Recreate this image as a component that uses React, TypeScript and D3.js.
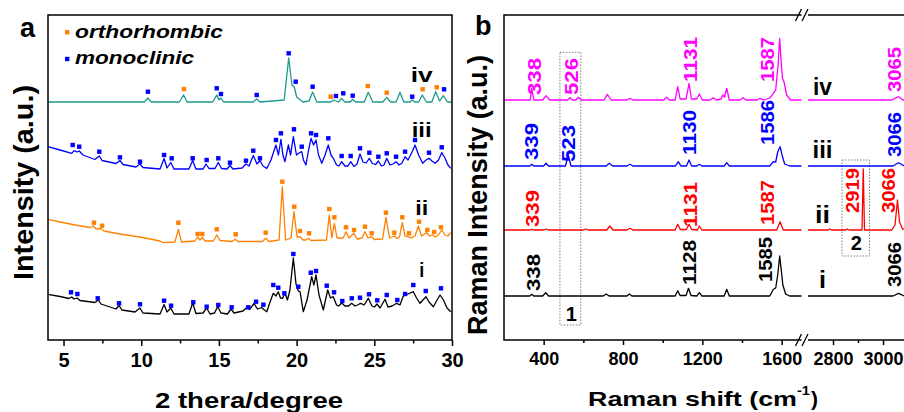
import React, { useRef, useEffect } from 'react';
import * as d3 from 'd3';

const FONT = "Arial, 'Liberation Sans', Helvetica, sans-serif";

// ---------- panel a: XRD, [2theta, intensity (a.u., stacked)] ----------
const xrdTicks = [5, 10, 15, 20, 25, 30];
const xrdMinor = [7.5, 12.5, 17.5, 22.5, 27.5];
const xrdNames = ['iv', 'iii', 'ii', 'i'];
const xrdNameY = [258, 203, 125, 63];
const xrdColors = ['#1b9b8b', '#0000ff', '#ff8000', '#000000'];

const xrdIV = [
  [4, 238], [10.2, 238], [10.43, 242], [10.65, 238], [12.45, 238], [12.72, 245], [12.95, 238],
  [14.6, 238], [14.86, 245], [15.0, 240], [15.12, 242], [15.3, 238], [17.2, 238], [17.43, 241],
  [17.65, 238], [19.2, 240], [19.49, 282], [19.7, 255], [19.85, 253], [20.0, 243], [20.4, 238],
  [20.8, 239], [21.03, 248], [21.3, 238], [22.2, 238], [22.36, 240], [22.53, 239], [22.7, 238],
  [22.9, 241.7], [23.1, 238], [23.45, 238], [23.61, 240.7], [23.8, 238], [24.35, 238], [24.61, 247.7],
  [24.9, 238], [25.55, 238], [25.8, 242.7], [26.05, 238], [26.4, 238], [26.65, 247.7], [26.9, 238],
  [27.3, 238], [27.44, 240], [27.6, 238], [27.85, 238], [28.09, 245], [28.35, 238], [28.7, 238],
  [28.95, 248.3], [29.2, 239], [29.44, 244.3], [29.7, 238], [30, 238],
];
const xrdIII = [
  [4, 193.3], [4.77, 190], [5.53, 186.7], [5.67, 189.3], [5.87, 188], [6.01, 189], [6.25, 185],
  [7.02, 180.5], [7.3, 184], [7.48, 179.5], [8.38, 176.5], [8.63, 179.5], [8.83, 175.5], [9.66, 173],
  [9.92, 176], [10.11, 172.5], [11.21, 171], [11.47, 181.5], [11.66, 172], [11.9, 177.5], [12.11, 171],
  [13.07, 171], [13.31, 179.5], [13.52, 171], [13.98, 171], [14.17, 176], [14.36, 171.5], [14.75, 171.5],
  [14.96, 177.5], [15.17, 171.5], [15.52, 171], [15.71, 174.5], [15.91, 171], [16.49, 172], [16.74, 176],
  [16.94, 174], [17.21, 184.5], [17.45, 176], [17.64, 179.5], [17.84, 174], [18.08, 171.5], [18.35, 180],
  [18.67, 195], [18.83, 185], [18.99, 200.7], [19.12, 185], [19.25, 178.3], [19.47, 195], [19.61, 185],
  [19.79, 203.3], [19.99, 185], [20.15, 187], [20.33, 188.3], [20.44, 180], [20.6, 175], [20.77, 190],
  [20.93, 201.7], [21.09, 195], [21.25, 200], [21.41, 185], [21.62, 176.7], [21.83, 185], [22.04, 195],
  [22.21, 185], [22.36, 181.7], [22.57, 175], [22.73, 174], [22.9, 178.3], [23.11, 174], [23.31, 174],
  [23.48, 178.3], [23.69, 173.5], [23.89, 176], [24.08, 186], [24.27, 178], [24.47, 177], [24.68, 181.7],
  [24.88, 176.5], [25.08, 175.5], [25.26, 179], [25.46, 174], [25.62, 175], [25.8, 181.7], [26.01, 175],
  [26.2, 176], [26.4, 178.3], [26.59, 175], [26.78, 177], [26.98, 183.3], [27.17, 180], [27.43, 188],
  [27.62, 195], [27.85, 185], [28.11, 176.7], [28.33, 180], [28.52, 181.7], [28.71, 179], [28.91, 176.7],
  [29.13, 180], [29.34, 187.3], [29.55, 182], [29.74, 175], [29.92, 171.7],
];
const xrdII = [
  [4, 120.7], [4.77, 118], [5.74, 115], [6.7, 112.5], [6.92, 114], [7.09, 111], [7.41, 111.5], [7.6, 109],
  [8.63, 106], [9.92, 103], [11.21, 99], [11.42, 97.3], [12.17, 98], [12.39, 110.7], [12.59, 98],
  [13.46, 99], [13.63, 103], [13.78, 100], [13.93, 102.5], [14.1, 99], [14.65, 99], [14.86, 105],
  [15.07, 99.5], [15.84, 98.5], [16.04, 100.7], [16.23, 98.5], [17.81, 98.5], [18.01, 101.7], [18.22, 98.5],
  [18.87, 100], [19.08, 153.3], [19.29, 100], [19.64, 102], [19.83, 128.3], [20.03, 103], [20.22, 103.3],
  [20.41, 100], [20.6, 100], [20.75, 101.7], [20.93, 99.5], [21.92, 100], [22.1, 125], [22.26, 102],
  [22.43, 116.7], [22.6, 102], [22.99, 102], [23.18, 108.3], [23.37, 102], [23.5, 104], [23.69, 106.7],
  [23.89, 101], [24.21, 102], [24.4, 108.3], [24.59, 102], [24.83, 103.3], [25.01, 100.5], [25.53, 101],
  [25.75, 122.7], [25.98, 102], [26.29, 104], [26.46, 101.5], [26.62, 103], [26.8, 117.3], [26.98, 104],
  [27.19, 103.3], [27.39, 102], [27.62, 104], [27.83, 114], [28.04, 104], [28.37, 107.3], [28.55, 104],
  [28.73, 105], [28.94, 103], [29.13, 105], [29.34, 110], [29.55, 105], [29.74, 104], [29.92, 107.3],
];
const xrdI = [
  [4, 45.7], [4.77, 43.5], [5.35, 41.5], [5.53, 43], [5.67, 41], [5.87, 42], [6.06, 39.5], [7.02, 37.5],
  [7.24, 40], [7.41, 36], [8.38, 31], [8.57, 34.5], [8.76, 30], [9.6, 28], [9.92, 32], [10.11, 27],
  [11.21, 26], [11.47, 35.5], [11.66, 28], [11.9, 32], [12.11, 26], [13.07, 26], [13.31, 37], [13.52, 26.5],
  [13.98, 27], [14.21, 32], [14.43, 26], [14.72, 27], [14.92, 33.5], [15.13, 27], [15.55, 26], [15.78, 31],
  [15.97, 27], [16.55, 29], [16.79, 32.5], [16.97, 30.5], [17.26, 36.5], [17.48, 31], [17.75, 32.5],
  [17.93, 30], [18.08, 28.3], [18.29, 38], [18.5, 46.7], [18.67, 44], [18.82, 48.3], [18.96, 42],
  [19.1, 41.7], [19.25, 46.7], [19.41, 40], [19.57, 50], [19.79, 82], [19.96, 56], [20.11, 49], [20.22, 48.3],
  [20.43, 28.3], [20.67, 40], [20.97, 63.3], [21.11, 55], [21.25, 65], [21.44, 45], [21.72, 30], [22.0, 50],
  [22.18, 42], [22.36, 43.3], [22.57, 35], [22.7, 34], [22.9, 37], [23.11, 34], [23.34, 34], [23.54, 36.7],
  [23.76, 34], [23.92, 35], [24.12, 36.7], [24.34, 35], [24.61, 41.7], [24.85, 34], [25.01, 33], [25.17, 36],
  [25.37, 32], [25.69, 40.7], [25.88, 33], [26.14, 34], [26.44, 36.7], [26.65, 35], [26.87, 44], [27.17, 46],
  [27.51, 48.3], [27.72, 42], [27.94, 36.7], [28.13, 40], [28.33, 43.3], [28.52, 38], [28.8, 33.3],
  [29.04, 40], [29.23, 45], [29.45, 40], [29.68, 32], [29.92, 28.3],
];

// phase markers: o = orthorhombic, m = monoclinic
const marksIV = [
  ['m', 10.43, 248.3], ['o', 12.75, 251], ['m', 14.86, 251.7], ['m', 15.13, 246], ['m', 17.43, 245],
  ['m', 19.49, 286.7], ['m', 19.94, 258.3], ['m', 21.03, 253.3], ['o', 22.19, 243.3], ['m', 22.53, 244],
  ['m', 23.0, 246.7], ['m', 23.61, 244.3], ['o', 24.58, 254], ['o', 25.8, 247.3], ['m', 27.44, 243.3],
  ['o', 28.11, 250.7], ['o', 29.02, 252.7], ['m', 29.49, 250.7],
];
const marksIII = [
  ['m', 5.59, 195], ['m', 6.01, 193.3], ['m', 7.3, 188.3], ['m', 8.63, 182.7], ['m', 9.92, 178.3],
  ['m', 11.47, 185], ['m', 11.96, 181.7], ['m', 13.31, 181.7], ['m', 14.21, 180], ['m', 14.96, 181.7],
  ['m', 15.71, 177.3], ['m', 16.74, 179.3], ['m', 17.21, 189.3], ['m', 17.64, 181.7], ['m', 18.67, 200],
  ['m', 18.99, 206.7], ['m', 19.83, 210.7], ['m', 20.33, 193.3], ['m', 20.93, 206.7], ['m', 21.25, 205],
  ['m', 22.04, 201.7], ['m', 22.9, 184], ['m', 23.48, 184], ['m', 24.08, 191.7], ['m', 24.68, 187.3],
  ['m', 25.26, 183.3], ['m', 25.8, 186.7], ['m', 26.4, 183.3], ['m', 26.98, 188.3], ['m', 27.62, 200],
  ['m', 28.52, 187.3], ['m', 29.34, 192.7],
];
const marksII = [
  ['o', 6.96, 117.3], ['o', 7.48, 114.3], ['o', 12.39, 117.3], ['o', 13.63, 106], ['o', 13.93, 106],
  ['o', 14.86, 110.7], ['o', 16.08, 105.7], ['o', 18.01, 107.3], ['o', 19.08, 158.3], ['o', 19.85, 133.3],
  ['o', 20.22, 109], ['o', 20.8, 106.7], ['o', 22.1, 131], ['o', 22.43, 122.7], ['o', 23.18, 112.7],
  ['o', 23.69, 110], ['o', 24.4, 113.3], ['o', 24.83, 106.7], ['o', 25.75, 127.3], ['o', 26.29, 107.3],
  ['o', 26.8, 122.7], ['o', 27.23, 106.7], ['o', 27.88, 118.3], ['o', 28.41, 110], ['o', 28.85, 108],
  ['o', 29.29, 112.7],
];
const marksI = [
  ['m', 5.48, 47.7], ['m', 5.89, 46], ['m', 7.2, 41.7], ['m', 8.57, 36.7], ['m', 9.92, 35.7], ['m', 11.47, 39.3],
  ['m', 11.92, 34.3], ['m', 13.35, 37.7], ['m', 14.21, 33.3], ['m', 14.96, 35], ['m', 15.82, 32.7],
  ['m', 16.89, 32.7], ['m', 17.39, 38.3], ['m', 17.86, 35.3], ['m', 18.5, 55], ['m', 18.82, 52.3],
  ['m', 19.21, 46.7], ['m', 19.79, 86], ['m', 20.11, 53.3], ['m', 20.91, 67.3], ['m', 21.25, 69],
  ['m', 21.94, 54.3], ['m', 22.41, 47.7], ['m', 22.94, 39], ['m', 23.55, 41.7], ['m', 24.08, 42.3],
  ['m', 24.66, 45.7], ['m', 25.19, 39.7], ['m', 25.8, 45], ['m', 26.48, 40], ['m', 26.98, 46], ['m', 27.51, 55],
  ['m', 28.31, 49], ['m', 29.29, 51.7],
];
const phaseNames = { o: 'orthorhombic', m: 'monoclinic' };
const phaseColors = { o: '#ff8000', m: '#0000ff' };

// ---------- panel b: Raman, [shift cm-1, intensity (a.u., stacked)] ----------
const ramanTicks1 = [400, 800, 1200, 1600];
const ramanMinor1 = [600, 1000, 1400];
const ramanTicks2 = [2800, 3000];
const ramanMinor2 = [2900, 3100];
const ramanNames = ['iv', 'iii', 'ii', 'i'];
const ramanNameY = [245, 182, 117, 52];
const ramanColors = ['#ff00ff', '#0000ff', '#ff0000', '#000000'];

const ramanIV = [
  [200, 240], [320, 240], [332, 240], [340, 251.7], [350, 240], [395, 240], [412, 244.3], [430, 240],
  [520, 240], [533, 242.3], [545, 240], [563, 240], [575, 242.7], [590, 240], [705, 240], [721, 245.7],
  [740, 240], [820, 240], [835, 241.7], [850, 240], [1005, 240], [1020, 242.7], [1035, 240], [1063, 240],
  [1076, 253.3], [1088, 241], [1118, 241], [1133, 256.7], [1145, 241], [1172, 241], [1185, 246], [1200, 240],
  [1240, 240], [1255, 242.3], [1270, 240], [1295, 241], [1303, 245], [1312, 243], [1323, 251.7], [1336, 240],
  [1390, 240], [1404, 242.3], [1420, 240], [1475, 240], [1491, 241.7], [1510, 240], [1540, 242], [1558, 246.7],
  [1570, 250], [1582, 275], [1590, 301.7], [1597, 280], [1604, 262], [1612, 258], [1625, 245], [1645, 240],
  [1700, 240],
  [2700, 240], [3035, 240], [3062, 243.3], [3080, 240], [3200, 240],
];
const ramanIII = [
  [200, 174], [330, 174], [340, 175.7], [350, 174], [400, 174], [412, 176.7], [425, 174], [510, 174],
  [524, 185], [538, 174], [715, 174], [731, 176.7], [748, 174], [820, 174], [835, 175.7], [850, 174],
  [1065, 174], [1079, 178.3], [1092, 174], [1120, 174], [1133, 180], [1146, 174], [1172, 174], [1185, 175.7],
  [1198, 174], [1310, 174], [1323, 177.3], [1336, 174], [1540, 174], [1558, 178.3], [1570, 178], [1580, 188],
  [1592, 193.3], [1602, 185], [1615, 176], [1640, 174], [1700, 174],
  [2700, 174], [3040, 174], [3062, 177.3], [3085, 174], [3200, 174],
];
const ramanII = [
  [200, 110], [330, 110], [340, 110.7], [350, 110], [400, 110], [412, 111], [425, 110], [600, 110],
  [612, 111], [625, 110], [718, 110], [734, 114], [750, 110], [820, 110], [835, 111.7], [850, 110],
  [1063, 110], [1076, 115.7], [1089, 110.5], [1120, 110.5], [1133, 115.7], [1146, 110.5], [1175, 110],
  [1185, 114], [1198, 110], [1575, 110], [1592, 118.3], [1608, 110], [1700, 110],
  [2700, 110], [2780, 110], [2787, 111], [2795, 110], [2850, 110], [2857, 111], [2865, 110], [2916, 110],
  [2921, 171], [2926, 110], [3035, 110], [3048, 115], [3058, 140], [3066, 118], [3078, 111], [3200, 110],
];
const ramanI = [
  [200, 44], [330, 44], [340, 45.7], [350, 44], [395, 44], [410, 47.3], [425, 44], [700, 44], [715, 46],
  [730, 44], [820, 44], [832, 46], [845, 44], [1063, 44], [1076, 49.3], [1088, 44.5], [1118, 44.5],
  [1130, 51.7], [1143, 44.5], [1172, 44], [1185, 47.3], [1198, 44], [1310, 44], [1323, 50.7], [1336, 44],
  [1540, 44], [1558, 50.7], [1570, 52], [1580, 65], [1590, 84], [1598, 70], [1606, 55], [1620, 46],
  [1640, 44], [1700, 44],
  [2700, 44], [3040, 44], [3062, 46.7], [3085, 44], [3200, 44],
];

// peak annotations: [text, shift, intensity where text starts]
const notesIV = [['338', 351, 245], ['526', 540, 245], ['1131', 1140, 258], ['1587', 1529, 258], ['3065', 3046, 248]];
const notesIII = [['339', 339, 180], ['523', 525, 178], ['1130', 1135, 185], ['1586', 1529, 195], ['3066', 3046, 183]];
const notesII = [['339', 344, 113], ['1131', 1140, 113], ['1587', 1529, 115], ['2919', 2875, 127], ['3066', 3019, 127]];
const notesI = [['338', 349, 49], ['1128', 1135, 55], ['1585', 1516, 58], ['3066', 3046, 53]];

// dotted boxes: [label, shift from, shift to, intensity low, intensity high, label shift, label intensity]
const ramanBoxes = [
  ['1', 482, 587, 15, 287.7, 540, 19],
  ['2', 2836, 2946, 84, 180, 2893, 90],
];

const txt = (g, s, x, y, size, opts: any = {}) => {
  const t = g.append('text')
    .attr('x', x).attr('y', y)
    .attr('font-family', FONT).attr('font-weight', 'bold')
    .attr('font-size', size).attr('fill', opts.fill || '#000')
    .attr('text-anchor', opts.anchor || 'start')
    .text(s);
  if (opts.len) t.attr('textLength', opts.len).attr('lengthAdjust', 'spacingAndGlyphs');
  if (opts.italic) t.attr('font-style', 'italic');
  return t;
};

const styleAxis = (ax, size) => {
  ax.select('.domain').remove();
  ax.selectAll('line').attr('stroke', '#000').attr('stroke-width', 1.5);
  ax.selectAll('text').attr('font-size', size).attr('font-weight', 'bold')
    .attr('font-family', FONT).attr('fill', '#000');
};

const drawXrd = (svg) => {
  const x = d3.scaleLinear().domain([4, 30]).range([48, 452]);
  const y = d3.scaleLinear().domain([0, 325]).range([340, 15]);
  const g = svg.append('g');
  const line = d3.line().x((d) => x(d[0])).y((d) => y(d[1]));

  [xrdIV, xrdIII, xrdII, xrdI].forEach((s, i) => {
    g.append('path').attr('d', line(s)).attr('fill', 'none')
      .attr('stroke', xrdColors[i]).attr('stroke-width', 1.3).attr('stroke-linejoin', 'round');
  });

  const marks = [...marksIV, ...marksIII, ...marksII, ...marksI];
  g.selectAll('rect.mk').data(marks).enter().append('rect')
    .attr('x', (d) => x(d[1]) - 2.2).attr('y', (d) => y(d[2]) - 2.2)
    .attr('width', 4.4).attr('height', 4.4)
    .attr('fill', (d) => phaseColors[d[0]]);

  const nameLen = [22, 20, 13, 5];
  xrdNames.forEach((n, i) => txt(g, n, x(28.05), y(xrdNameY[i]), 21, { anchor: 'middle', len: nameLen[i] }));

  // legend
  [['o', 32.3, 37.5, 148], ['m', 59, 64, 119]].forEach(([k, my, ty, len]) => {
    g.append('rect').attr('x', 65).attr('y', my - 2.2).attr('width', 4.4).attr('height', 4.4)
      .attr('fill', phaseColors[k]);
    txt(g, phaseNames[k], 75, ty, 18.5, { italic: true, len });
  });

  const ax = g.append('g').attr('transform', `translate(0,${y.range()[0]})`)
    .call(d3.axisBottom(x).tickValues(xrdTicks).tickSize(6).tickPadding(7));
  styleAxis(ax, 20);
  const mn = g.append('g').attr('transform', `translate(0,${y.range()[0]})`)
    .call(d3.axisBottom(x).tickValues(xrdMinor).tickSize(3.5).tickFormat(() => ''));
  styleAxis(mn, 20);

  g.append('rect').attr('x', x.range()[0]).attr('y', y.range()[1])
    .attr('width', x.range()[1] - x.range()[0]).attr('height', y.range()[0] - y.range()[1])
    .attr('fill', 'none').attr('stroke', '#000').attr('stroke-width', 1.5);

  txt(g, 'a', 20, 37, 27);
  txt(g, '2 thera/degree', 249, 408, 22, { anchor: 'middle', len: 188 });
  txt(g, 'Intensity (a.u.)', 0, 0, 28, { anchor: 'middle', len: 195 })
    .attr('transform', 'translate(33,182.5) rotate(-90)');
};

const drawRaman = (svg) => {
  const x1 = d3.scaleLinear().domain([200, 1700]).range([504, 801.5]);
  const x2 = d3.scaleLinear().domain([2700, 3200]).range([808, 933]);
  const xs = (v) => (v <= 1700 ? x1(v) : x2(v));
  const y = d3.scaleLinear().domain([0, 325]).range([340, 15]);
  const g = svg.append('g');
  const line = d3.line().x((d) => xs(d[0])).y((d) => y(d[1]));

  // dotted boxes first
  ramanBoxes.forEach(([lab, a, b, lo, hi, lx, ly]) => {
    g.append('rect').attr('x', xs(a)).attr('y', y(hi)).attr('width', xs(b) - xs(a)).attr('height', y(lo) - y(hi))
      .attr('fill', 'none').attr('stroke', '#808080').attr('stroke-width', 1).attr('stroke-dasharray', '1.5 1.5');
    txt(g, lab, xs(lx), y(ly), 20, { anchor: 'middle' });
  });

  [ramanIV, ramanIII, ramanII, ramanI].forEach((s, i) => {
    [s.filter((d) => d[0] <= 1700), s.filter((d) => d[0] >= 2700)].forEach((seg) => {
      g.append('path').attr('d', line(seg)).attr('fill', 'none')
        .attr('stroke', ramanColors[i]).attr('stroke-width', 1.3).attr('stroke-linejoin', 'round');
    });
  });

  [notesIV, notesIII, notesII, notesI].forEach((notes, i) => {
    notes.forEach(([s, v, h]) => {
      txt(g, s, 0, 0, 19, { fill: ramanColors[i], len: s.length === 4 ? 45 : 37 }).attr('dy', '0.36em')
        .attr('transform', `translate(${xs(v)},${y(h)}) rotate(-90)`);
    });
  });

  const nameLen = [19, 20, 15, 7];
  ramanNames.forEach((n, i) => txt(g, n, x2(2758), y(ramanNameY[i]), 23, { anchor: 'middle', len: nameLen[i] }));

  const base = y.range()[0];
  [[x1, ramanTicks1, ramanMinor1], [x2, ramanTicks2, ramanMinor2]].forEach(([sc, tk, mn]) => {
    const ax = g.append('g').attr('transform', `translate(0,${base})`)
      .call(d3.axisBottom(sc).tickValues(tk).tickSize(5).tickPadding(7).tickFormat(d3.format('d')));
    styleAxis(ax, 18);
    const am = g.append('g').attr('transform', `translate(0,${base})`)
      .call(d3.axisBottom(sc).tickValues(mn).tickSize(3).tickFormat(() => ''));
    styleAxis(am, 18);
  });

  // frame with axis break
  const top = y.range()[1];
  const fr = d3.path();
  fr.moveTo(801.5, top); fr.lineTo(504, top); fr.lineTo(504, base); fr.lineTo(801.5, base);
  fr.moveTo(808, top); fr.lineTo(940, top);
  fr.moveTo(808, base); fr.lineTo(940, base);
  g.append('path').attr('d', fr.toString()).attr('fill', 'none').attr('stroke', '#000').attr('stroke-width', 1.5);
  const br = d3.path();
  [top, base].forEach((yy) => {
    [798.5, 805].forEach((cx) => { br.moveTo(cx - 3, yy + 6); br.lineTo(cx + 3, yy - 6); });
  });
  g.append('path').attr('d', br.toString()).attr('fill', 'none').attr('stroke', '#000').attr('stroke-width', 1.3);

  txt(g, 'b', 475, 35, 27);
  txt(g, 'Raman shift (cm', 588, 406, 21, { len: 209 });
  txt(g, '-1', 797, 395, 13, { len: 13 });
  txt(g, ')', 811, 406, 21);
  txt(g, 'Raman Intensity (a.u.)', 0, 0, 27, { anchor: 'middle', len: 280 })
    .attr('transform', 'translate(487,195) rotate(-90)');
};

export default function App() {
  const svgEl = useRef(null);

  useEffect(() => {
    const svg = d3.select(svgEl.current);
    svg.selectAll('*').remove();
    drawXrd(svg);
    drawRaman(svg);
  }, []);

  return (
    <svg
      ref={svgEl}
      width={904}
      height={412}
      style={{ position: 'absolute', left: 0, top: 0, background: '#fff' }}
    />
  );
}
